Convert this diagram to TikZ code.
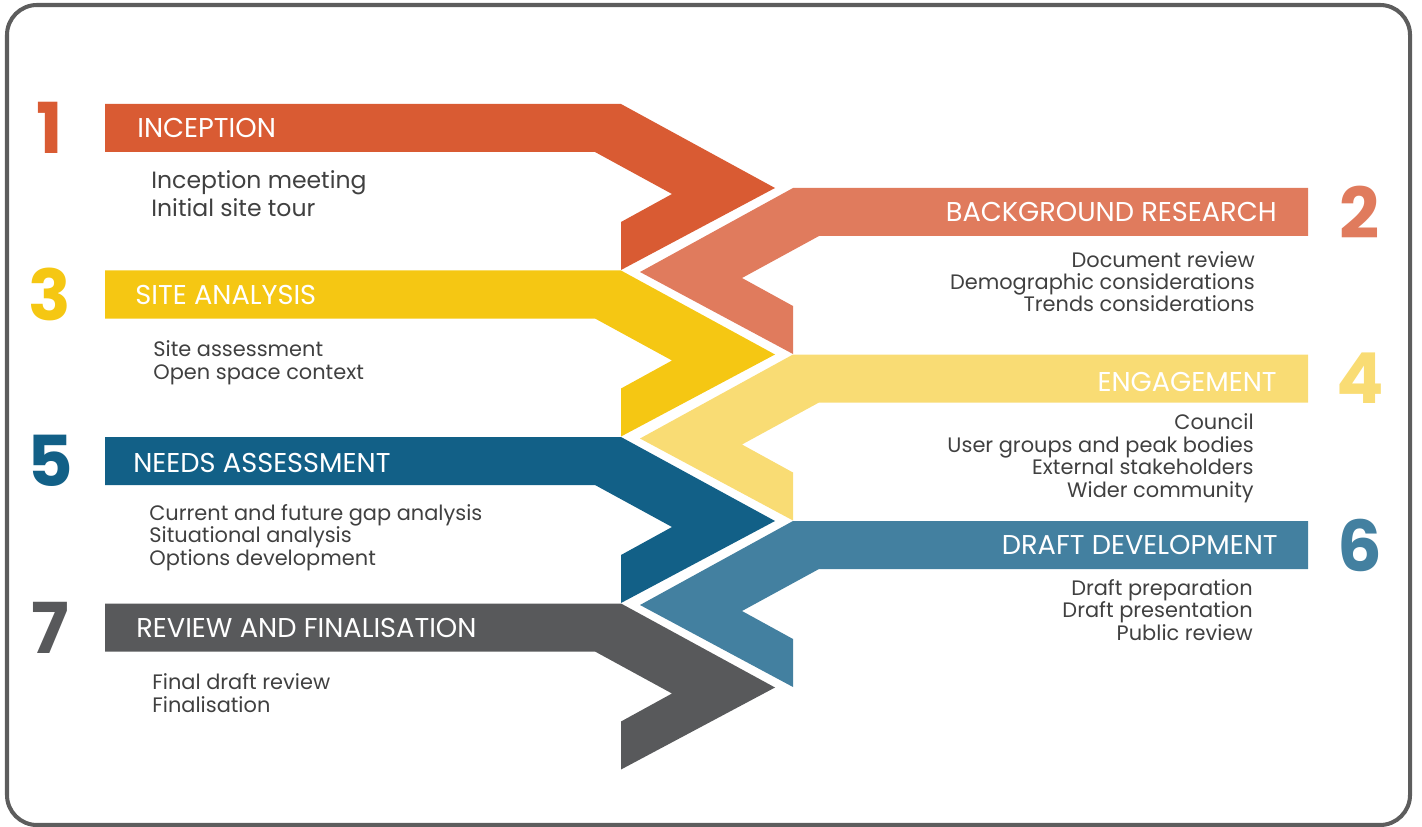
\documentclass[tikz,border=0pt]{standalone}
\usepackage{fontspec}
\setmainfont{Poppins}
\definecolor{incep}{HTML}{D95B33}
\definecolor{backgr}{HTML}{E07B5D}
\definecolor{siteyel}{HTML}{F5C713}
\definecolor{engyel}{HTML}{F9DC74}
\definecolor{needsblue}{HTML}{126087}
\definecolor{draftblue}{HTML}{4380A0}
\definecolor{reviewgray}{HTML}{58595B}
\definecolor{textgray}{HTML}{404040}
\definecolor{framegray}{HTML}{5D5D5D}
\begin{document}
\begin{tikzpicture}[x=0.02cm,y=-0.02cm,
	title/.style={text=white,inner sep=0pt,font=\fontsize{15.5}{18}\selectfont},
	items/.style={text=textgray,inner sep=0pt,align=left,font=\fontsize{11.9}{12.75}\selectfont},
	itemsr/.style={items,align=right},
	bignum/.style={inner sep=0pt,font=\fontsize{40}{40}\selectfont\bfseries}]
\useasboundingbox (0,0) rectangle (1422,827);
\draw[framegray,line width=2.3pt,rounded corners=0.6cm] (7,5) rectangle (1410,825);
% left arrows
\fill[incep,shift={(0,104)}] (105,0) -- (621,0) -- (775,84) -- (621,166) -- (621,118) -- (672,90) -- (595,48) -- (105,48) -- cycle;
\fill[siteyel,shift={(0,270.5)}] (105,0) -- (621,0) -- (775,84) -- (621,166) -- (621,118) -- (672,90) -- (595,48) -- (105,48) -- cycle;
\fill[needsblue,shift={(0,437)}] (105,0) -- (621,0) -- (775,84) -- (621,166) -- (621,118) -- (672,90) -- (595,48) -- (105,48) -- cycle;
\fill[reviewgray,shift={(0,603.5)}] (105,0) -- (621,0) -- (775,84) -- (621,166) -- (621,118) -- (672,90) -- (595,48) -- (105,48) -- cycle;
% right arrows
\fill[backgr,shift={(0,188)}] (1308,0) -- (793,0) -- (640,84) -- (793,166) -- (793,118) -- (742,90) -- (819,48) -- (1308,48) -- cycle;
\fill[engyel,shift={(0,354.5)}] (1308,0) -- (793,0) -- (640,84) -- (793,166) -- (793,118) -- (742,90) -- (819,48) -- (1308,48) -- cycle;
\fill[draftblue,shift={(0,521)}] (1308,0) -- (793,0) -- (640,84) -- (793,166) -- (793,118) -- (742,90) -- (819,48) -- (1308,48) -- cycle;
% numbers
\node[bignum,text=incep] (n1) at (50,128) {1};
\node[bignum,text=backgr] (n2) at (1360,212) {2};
\node[bignum,text=siteyel] (n3) at (50,294.5) {3};
\node[bignum,text=engyel] (n4) at (1360,378.5) {4};
\node[bignum,text=needsblue] (n5) at (50,461) {5};
\node[bignum,text=draftblue] (n6) at (1360,545) {6};
\node[bignum,text=reviewgray] (n7) at (50,627.5) {7};
% titles
\node[title,anchor=base west] (t1) at (137,138) {INCEPTION};
\node[title,anchor=base east] (t2) at (1277,222) {BACKGROUND RESEARCH};
\node[title,anchor=base west] (t3) at (135,305) {SITE ANALYSIS};
\node[title,anchor=base east] (t4) at (1277,391) {ENGAGEMENT};
\node[title,anchor=base west] (t5) at (133,472) {NEEDS ASSESSMENT};
\node[title,anchor=base east] (t6) at (1278,554) {DRAFT DEVELOPMENT};
\node[title,anchor=base west] (t7) at (136,637) {REVIEW AND FINALISATION};
% task lists (base = last line)
\node[items,anchor=base west,font=\fontsize{13.4}{16}\selectfont] (l1) at (151,217) {Inception meeting\\Initial site tour};
\node[itemsr,anchor=base east] (l2) at (1255,312) {Document review\\Demographic considerations\\Trends considerations};
\node[items,anchor=base west] (l3) at (153,379) {Site assessment\\Open space context};
\node[itemsr,anchor=base east] (l4) at (1254,497) {Council\\User groups and peak bodies\\External stakeholders\\Wider community};
\node[items,anchor=base west] (l5) at (149,565) {Current and future gap analysis\\Situational analysis\\Options development};
\node[itemsr,anchor=base east] (l6) at (1253,640) {Draft preparation\\Draft presentation\\Public review};
\node[items,anchor=base west] (l7) at (152,712) {Final draft review\\Finalisation};
\end{tikzpicture}
\end{document}
